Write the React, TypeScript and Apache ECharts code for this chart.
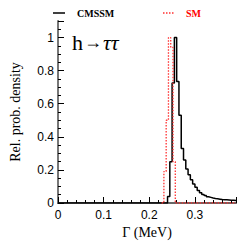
import React, { useEffect, useRef } from "react";
import * as echarts from "echarts";

// CMSSM histogram (black, solid)
const cmssmStart = 0.235;
const cmssmWidth = 0.005;
const cmssmValues = [
  0.0, 0.04, 0.25, 0.725, 1.0, 0.735, 0.53, 0.33, 0.26, 0.205, 0.17, 0.14, 0.115,
  0.095, 0.075, 0.062, 0.052, 0.045, 0.038, 0.034, 0.03, 0.027, 0.025, 0.023,
  0.021, 0.02, 0.019, 0.018, 0.017, 0.016, 0.015,
];

// SM histogram (red, dotted)
const smStart = 0.227;
const smWidth = 0.005;
const smValues = [0.0, 0.19, 0.5, 1.0, 0.94, 0.25];

const xMin = 0;
const xMax = 0.39;
const yMin = 0;
const yMax = 1.1;

function stepPoints(start: number, width: number, values: number[], from: number) {
  const pts: number[][] = [[from, 0], [start, 0]];
  values.forEach((v, i) => {
    const a = start + i * width;
    const b = a + width;
    pts.push([a, v]);
    pts.push([Math.min(b, xMax), v]);
  });
  const end = start + values.length * width;
  if (end < xMax) {
    pts.push([end, 0]);
    pts.push([xMax, 0]);
  }
  return pts;
}

export default function App() {
  const ref = useRef<HTMLDivElement>(null);
  useEffect(() => {
    if (!ref.current) return;
    const chart = echarts.init(ref.current, null, { renderer: "svg" });
    const sans = "Liberation Sans";
    const serif = "Liberation Serif";
    chart.setOption({
      animation: false,
      backgroundColor: "#ffffff",
      grid: { left: 53, right: 13, top: 21, bottom: 46 },
      xAxis: [
        {
          type: "value",
          min: xMin,
          max: xMax,
          interval: 0.1,
          position: "bottom",
          name: "Γ (MeV)",
          nameLocation: "middle",
          nameGap: 22,
          nameTextStyle: { fontFamily: serif, fontSize: 14, color: "#000" },
          axisLine: { show: true, lineStyle: { color: "#000", width: 1 } },
          axisTick: { show: true, inside: true, length: 6, lineStyle: { color: "#000" } },
          minorTick: { show: true, splitNumber: 5, length: 3, lineStyle: { color: "#000" } },
          splitLine: { show: false },
          axisLabel: {
            showMaxLabel: false,
            fontFamily: sans,
            fontSize: 12,
            color: "#000",
            margin: 6,
            formatter: (v: number) => (Math.abs(v) < 1e-9 ? "0" : String(Math.round(v * 10) / 10)),
          },
        },
        {
          type: "value",
          min: xMin,
          max: xMax,
          position: "top",
          axisLine: { show: true, lineStyle: { color: "#666", width: 2 } },
          axisTick: { show: false },
          axisLabel: { show: false },
          splitLine: { show: false },
        },
      ],
      yAxis: [
        {
          type: "value",
          min: yMin,
          max: yMax,
          interval: 0.2,
          position: "left",
          name: "Rel. prob. density",
          nameLocation: "middle",
          nameGap: 36,
          nameTextStyle: { fontFamily: serif, fontSize: 14, color: "#000" },
          axisLine: { show: true, lineStyle: { color: "#000", width: 1 } },
          axisTick: { show: true, inside: true, length: 6, lineStyle: { color: "#000" } },
          minorTick: { show: true, splitNumber: 4, length: 3, lineStyle: { color: "#000" } },
          splitLine: { show: false },
          axisLabel: {
            showMaxLabel: false,
            fontFamily: sans,
            fontSize: 12,
            color: "#000",
            margin: 4,
            formatter: (v: number) => (Math.abs(v) < 1e-9 ? "0" : Math.abs(v - 1) < 1e-9 ? "1" : String(Math.round(v * 10) / 10)),
          },
        },
        {
          type: "value",
          min: yMin,
          max: yMax,
          position: "right",
          axisLine: { show: true, lineStyle: { color: "#777", width: 2 } },
          axisTick: { show: false },
          axisLabel: { show: false },
          splitLine: { show: false },
        },
      ],
      series: [
        {
          name: "CMSSM",
          type: "line",
          data: stepPoints(cmssmStart, cmssmWidth, cmssmValues, xMin),
          symbol: "none",
          lineStyle: { color: "#000", width: 1.5 },
          z: 3,
        },
        {
          name: "SM",
          type: "line",
          data: stepPoints(smStart, smWidth, smValues, smStart),
          symbol: "none",
          lineStyle: { color: "#ff3030", width: 1.3, type: [1.5, 1.5] },
          z: 4,
        },
      ],
      graphic: [
        { type: "line", shape: { x1: 53, y1: 13, x2: 65, y2: 13 }, style: { stroke: "#000", lineWidth: 1.5 } },
        { type: "text", x: 77, y: 13, style: { text: "CMSSM", fill: "#000", font: `bold 10px ${serif}`, textVerticalAlign: "middle" } },
        { type: "line", shape: { x1: 163, y1: 13, x2: 175, y2: 13 }, style: { stroke: "#ff3030", lineWidth: 1.3, lineDash: [1.5, 1.5] } },
        { type: "text", x: 186, y: 13, style: { text: "SM", fill: "#ff0000", font: `bold 10px ${serif}`, textVerticalAlign: "middle" } },
        {
          type: "text",
          x: 72,
          y: 42,
          style: {
            text: "{a|h}{b|→}{c|ττ}",
            textVerticalAlign: "middle",
            rich: {
              a: { fontFamily: serif, fontSize: 22, fill: "#000", color: "#000" },
              b: { fontFamily: serif, fontSize: 18, fill: "#000", color: "#000", padding: [0, 1, 0, 1] },
              c: { fontFamily: serif, fontSize: 22, fontStyle: "italic", fill: "#000", color: "#000" },
            },
          },
        },
      ],
    });
    return () => chart.dispose();
  }, []);
  return <div ref={ref} style={{ width: 249, height: 249, position: "absolute", left: 0, top: 0 }} />;
}
